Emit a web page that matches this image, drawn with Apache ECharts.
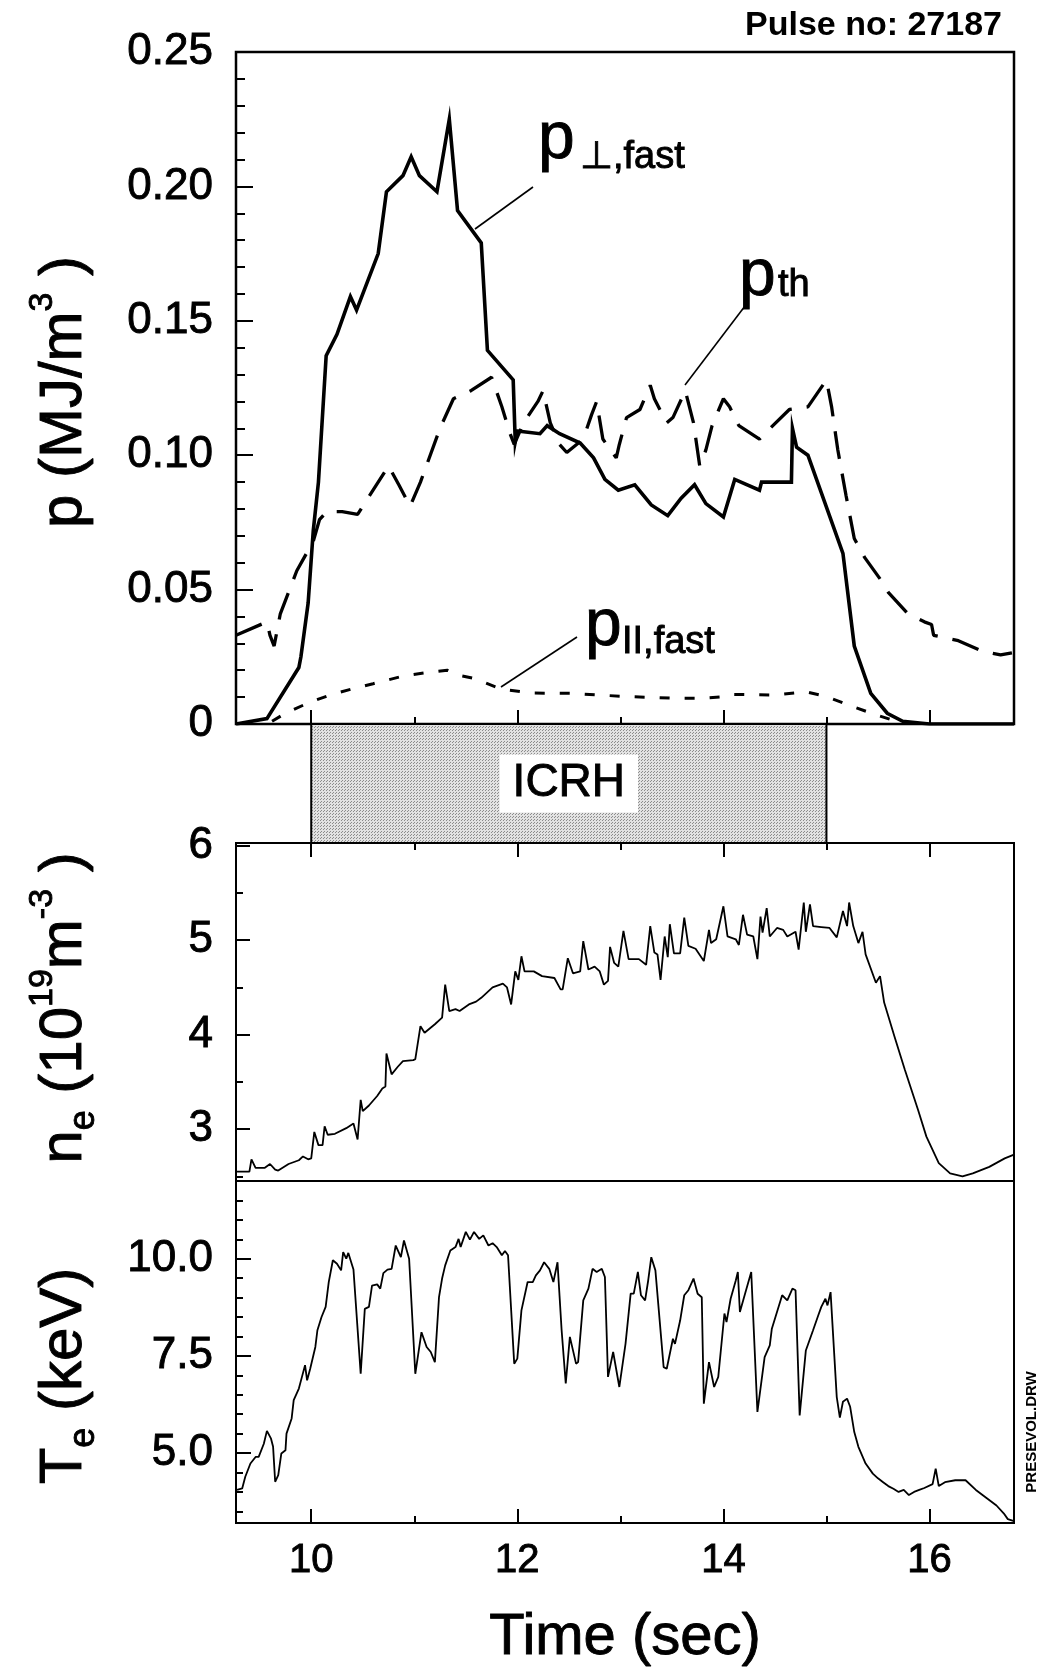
<!DOCTYPE html>
<html><head><meta charset="utf-8">
<script src="https://cdn.jsdelivr.net/npm/echarts@6/dist/echarts.min.js"></script>
<style>html,body{margin:0;padding:0;background:#fff}#c{width:1042px;height:1671px}</style>
</head><body><div id="c"></div>
<script>
const FONT = "'Liberation Sans', Arial, Helvetica, sans-serif";
const T_MIN = 9.27, T_MAX = 16.82;
const P_MIN = 0, P_MAX = 0.25;
const NE_MIN = 2.45, NE_MAX = 6.03;
const TE_MIN = 3.2, TE_MAX = 12.0;

const timeMajorTicks = [10, 12, 14, 16];
const timeMinorTicks = [11, 13, 15];
const pMajorTicks = [0, 0.05, 0.10, 0.15, 0.20, 0.25];
const pMinorTicks = [0.01,0.02,0.03,0.04,0.06,0.07,0.08,0.09,0.11,0.12,0.13,0.14,0.16,0.17,0.18,0.19,0.21,0.22,0.23,0.24];
const neMajorTicks = [3, 4, 5, 6];
const neMinorTicks = [2.5, 3.5, 4.5, 5.5];
const teMajorTicks = [5, 7.5, 10];
const teMinorTicks = [3.5,4,4.5,5.5,6,6.5,7,8,8.5,9,9.5,10.5,11,11.5];

const icrhWindow = [[10, 15]];
const icrhLabel = 'ICRH';

// p_perp,fast (MJ/m^3)
const pPerpFast = [[9.27,0.000],[9.57,0.002],[9.88,0.021],[9.90,0.025],[9.97,0.045],[10.02,0.072],[10.07,0.090],[10.145,0.137],[10.25,0.145],[10.38,0.159],[10.44,0.154],[10.65,0.175],[10.73,0.198],[10.89,0.204],[10.97,0.211],[11.05,0.204],[11.22,0.198],[11.34,0.225],[11.42,0.191],[11.65,0.179],[11.71,0.139],[11.96,0.128],[11.98,0.105],[12.0,0.109],[12.22,0.108],[12.29,0.111],[12.41,0.108],[12.61,0.1045],[12.74,0.099],[12.85,0.091],[12.98,0.087],[13.14,0.089],[13.30,0.0815],[13.46,0.0775],[13.59,0.084],[13.72,0.089],[13.83,0.082],[14.00,0.077],[14.11,0.091],[14.35,0.087],[14.37,0.090],[14.66,0.090],[14.67,0.110],[14.71,0.103],[14.82,0.100],[15.16,0.0635],[15.27,0.029],[15.43,0.0114],[15.59,0.004],[15.74,0.001],[16.0,0.0],[16.82,0.0]];
// p_th
const pTh = [[9.27,0.033],[9.57,0.038],[9.60,0.033],[9.64,0.029],[9.70,0.041],[9.86,0.057],[10.02,0.068],[10.08,0.076],[10.15,0.079],[10.30,0.079],[10.45,0.078],[10.60,0.087],[10.75,0.096],[10.85,0.089],[10.96,0.081],[11.06,0.090],[11.25,0.110],[11.38,0.121],[11.55,0.124],[11.75,0.129],[11.85,0.118],[11.93,0.108],[11.97,0.104],[12.06,0.112],[12.20,0.120],[12.25,0.124],[12.32,0.112],[12.41,0.104],[12.48,0.101],[12.64,0.106],[12.72,0.115],[12.77,0.120],[12.83,0.106],[12.96,0.099],[12.99,0.104],[13.06,0.114],[13.19,0.117],[13.29,0.126],[13.33,0.121],[13.45,0.112],[13.51,0.114],[13.63,0.124],[13.71,0.112],[13.77,0.096],[13.83,0.102],[13.89,0.111],[14.0,0.121],[14.06,0.118],[14.15,0.111],[14.35,0.106],[14.48,0.111],[14.64,0.117],[14.82,0.118],[15.0,0.128],[15.05,0.118],[15.11,0.102],[15.19,0.085],[15.27,0.069],[15.37,0.062],[15.52,0.054],[15.60,0.049],[15.79,0.041],[15.95,0.038],[16.02,0.037],[16.04,0.033],[16.10,0.0325],[16.28,0.031],[16.52,0.027],[16.69,0.0257],[16.80,0.0265]];
// p_par,fast
const pParFast = [[9.62,0.001],[9.75,0.004],[9.98,0.008],[10.20,0.011],[10.39,0.013],[10.60,0.015],[10.91,0.018],[11.10,0.019],[11.32,0.020],[11.45,0.018],[11.58,0.017],[11.84,0.013],[12.15,0.0115],[12.51,0.0114],[13.06,0.0102],[13.54,0.0096],[13.80,0.0096],[14.03,0.0102],[14.10,0.011],[14.51,0.0108],[14.80,0.012],[15.0,0.0102],[15.26,0.0064],[15.49,0.0033],[15.62,0.0017],[15.72,0.0]];
// n_e (1e19 m^-3)
const neData = [[9.28,2.55],[9.31,2.55],[9.40,2.55],[9.42,2.68],[9.46,2.59],[9.55,2.59],[9.60,2.63],[9.65,2.57],[9.68,2.56],[9.78,2.63],[9.88,2.67],[9.92,2.71],[9.97,2.68],[10.0,2.69],[10.03,2.97],[10.07,2.83],[10.11,2.83],[10.13,3.03],[10.16,2.94],[10.23,2.95],[10.34,3.01],[10.41,3.06],[10.45,2.89],[10.48,3.31],[10.50,3.19],[10.56,3.25],[10.64,3.35],[10.69,3.43],[10.72,3.45],[10.73,3.80],[10.78,3.58],[10.84,3.66],[10.89,3.72],[10.99,3.73],[11.01,3.74],[11.06,4.09],[11.10,4.02],[11.20,4.11],[11.27,4.18],[11.30,4.53],[11.34,4.25],[11.40,4.27],[11.44,4.25],[11.53,4.32],[11.60,4.35],[11.65,4.39],[11.76,4.50],[11.86,4.54],[11.90,4.50],[11.94,4.32],[11.98,4.67],[12.01,4.58],[12.04,4.83],[12.07,4.67],[12.16,4.67],[12.24,4.62],[12.36,4.60],[12.42,4.48],[12.44,4.48],[12.49,4.81],[12.54,4.65],[12.61,4.67],[12.64,4.99],[12.69,4.69],[12.75,4.72],[12.80,4.67],[12.84,4.53],[12.88,4.57],[12.90,4.93],[12.94,4.76],[12.98,4.72],[13.03,5.10],[13.08,4.80],[13.18,4.80],[13.25,4.74],[13.29,5.15],[13.33,4.87],[13.36,4.85],[13.39,4.58],[13.43,5.04],[13.46,4.82],[13.48,5.17],[13.52,4.86],[13.58,4.86],[13.62,5.24],[13.66,4.94],[13.73,4.91],[13.81,4.78],[13.86,5.11],[13.88,4.97],[13.93,5.01],[14.00,5.36],[14.04,5.04],[14.12,5.01],[14.15,4.95],[14.19,5.27],[14.23,5.06],[14.29,5.04],[14.33,4.80],[14.36,5.25],[14.38,5.08],[14.42,5.34],[14.45,5.04],[14.52,5.13],[14.58,5.11],[14.62,5.04],[14.70,5.09],[14.73,4.90],[14.78,5.40],[14.80,5.09],[14.84,5.38],[14.87,5.15],[14.95,5.14],[15.03,5.13],[15.10,5.03],[15.16,5.31],[15.20,5.15],[15.22,5.40],[15.26,5.15],[15.31,4.97],[15.35,5.09],[15.38,4.85],[15.48,4.55],[15.52,4.62],[15.56,4.34],[15.66,3.98],[15.76,3.63],[15.89,3.20],[15.97,2.92],[16.09,2.64],[16.20,2.53],[16.32,2.50],[16.42,2.53],[16.58,2.60],[16.73,2.69],[16.82,2.73]];
// T_e (keV)
const teData = [[9.28,4.05],[9.33,4.09],[9.36,4.39],[9.41,4.73],[9.46,4.90],[9.49,4.90],[9.54,5.24],[9.57,5.57],[9.61,5.37],[9.63,5.16],[9.65,4.26],[9.68,4.43],[9.71,4.99],[9.75,5.07],[9.76,5.50],[9.81,5.89],[9.83,6.36],[9.88,6.66],[9.91,6.96],[9.94,7.26],[9.96,6.87],[9.99,7.17],[10.04,7.73],[10.06,8.16],[10.10,8.50],[10.14,8.76],[10.17,9.40],[10.21,9.96],[10.25,9.87],[10.29,9.70],[10.31,10.17],[10.34,10.0],[10.36,10.15],[10.41,9.72],[10.48,7.04],[10.52,8.71],[10.56,8.76],[10.59,9.31],[10.64,9.34],[10.67,9.23],[10.70,9.63],[10.74,9.72],[10.78,9.74],[10.82,10.34],[10.87,10.04],[10.90,10.47],[10.95,10.0],[11.01,7.04],[11.07,8.11],[11.12,7.73],[11.16,7.60],[11.20,7.34],[11.24,9.01],[11.27,9.49],[11.30,9.83],[11.35,10.21],[11.40,10.30],[11.43,10.51],[11.45,10.30],[11.50,10.69],[11.54,10.49],[11.58,10.69],[11.63,10.51],[11.67,10.60],[11.72,10.34],[11.76,10.40],[11.80,10.30],[11.85,10.09],[11.88,10.20],[11.91,10.09],[11.97,7.30],[12.00,7.43],[12.04,8.67],[12.10,9.40],[12.15,9.40],[12.18,9.57],[12.22,9.70],[12.26,9.91],[12.31,9.74],[12.35,9.40],[12.39,9.91],[12.43,8.16],[12.47,6.79],[12.51,7.99],[12.57,7.30],[12.59,7.34],[12.64,8.93],[12.69,9.23],[12.73,9.74],[12.77,9.66],[12.82,9.74],[12.85,9.53],[12.88,6.96],[12.93,7.60],[12.99,6.70],[13.05,7.81],[13.10,9.10],[13.13,9.10],[13.17,9.66],[13.20,9.06],[13.24,8.93],[13.27,9.44],[13.30,10.04],[13.34,9.70],[13.42,7.21],[13.45,7.17],[13.51,7.94],[13.53,7.81],[13.58,8.41],[13.62,9.06],[13.66,9.19],[13.71,9.49],[13.75,9.10],[13.79,9.01],[13.81,6.27],[13.86,7.34],[13.91,6.70],[13.95,6.96],[14.01,8.59],[14.03,8.37],[14.07,8.97],[14.12,9.44],[14.14,9.66],[14.16,8.63],[14.21,9.10],[14.27,9.66],[14.33,6.06],[14.40,7.47],[14.45,7.77],[14.47,8.20],[14.52,8.63],[14.57,9.06],[14.62,8.93],[14.67,9.23],[14.70,9.19],[14.74,5.97],[14.80,7.64],[14.87,8.16],[14.92,8.54],[14.95,8.76],[14.99,8.97],[15.01,8.80],[15.04,9.14],[15.10,6.44],[15.13,5.91],[15.16,6.32],[15.20,6.40],[15.23,6.19],[15.27,5.54],[15.31,5.16],[15.38,4.73],[15.45,4.47],[15.50,4.35],[15.55,4.25],[15.60,4.15],[15.65,4.08],[15.70,4.00],[15.75,4.05],[15.80,3.92],[15.85,4.00],[15.90,4.05],[15.95,4.10],[16.03,4.20],[16.06,4.60],[16.09,4.15],[16.15,4.25],[16.25,4.30],[16.35,4.30],[16.45,4.05],[16.55,3.85],[16.65,3.65],[16.72,3.45],[16.76,3.30],[16.82,3.25]];

const GL = 236, GW = 778;
const TB = 0.9; // slight text thickening to match the scanned print weight

// stipple pattern for ICRH band
const pc = document.createElement('canvas');
pc.width = 3; pc.height = 3;
const pctx = pc.getContext('2d');
pctx.fillStyle = '#e2e2e2'; pctx.fillRect(0, 0, 3, 3);
pctx.fillStyle = '#8c8c8c'; pctx.fillRect(0, 0, 1, 1); pctx.fillRect(2, 1, 1, 1);
const stipple = { image: pc, repeat: 'repeat' };

function tAxis(gi, pos, ticks, len, labels, extra) {
  return Object.assign({
    type: 'value', gridIndex: gi, position: pos, min: T_MIN, max: T_MAX,
    axisLine: { show: false }, splitLine: { show: false },
    axisTick: { show: true, inside: true, length: len, customValues: ticks, lineStyle: { color: '#000', width: 2 } },
    axisLabel: { show: labels, customValues: ticks, margin: 18, color: '#000', fontSize: 40, fontFamily: FONT,
      textBorderColor: '#000', textBorderWidth: TB }
  }, extra || {});
}
function vAxis(gi, min, max, ticks, len, labels, fmt) {
  return {
    type: 'value', gridIndex: gi, position: 'left', min: min, max: max,
    axisLine: { show: false }, splitLine: { show: false },
    axisTick: { show: true, inside: true, length: len, customValues: ticks, lineStyle: { color: '#000', width: 2 } },
    axisLabel: { show: labels, customValues: ticks, margin: 23, color: '#000', fontSize: 44, fontFamily: FONT, formatter: fmt,
      textBorderColor: '#000', textBorderWidth: TB }
  };
}

const lineBase = { type: 'line', symbol: 'none', showSymbol: false, clip: true, animation: false };

function txt(x, y, text, size, extra) {
  return Object.assign({ type: 'text', x: x, y: y,
    style: { text: text, align: 'left', verticalAlign: 'middle', fontSize: size, fontFamily: FONT, fill: '#000', stroke: '#000', lineWidth: TB } }, extra || {});
}
function rotTitle(x, y, text, rich) {
  const r = {};
  Object.keys(rich).forEach(k => { r[k] = Object.assign({ fontFamily: FONT, fill: '#000', stroke: '#000', lineWidth: TB }, rich[k]); });
  return { type: 'text', x: x, y: y, rotation: Math.PI / 2,
    style: { text: text, align: 'center', verticalAlign: 'middle', fill: '#000', fontFamily: FONT, fontSize: 60, rich: r } };
}

const chart = echarts.init(document.getElementById('c'), null, { renderer: 'canvas', width: 1042, height: 1671 });
chart.setOption({
  backgroundColor: '#fff',
  animation: false,
  grid: [
    { left: GL, top: 52, width: GW, height: 672, show: true, borderColor: '#000', borderWidth: 2.5, backgroundColor: 'transparent' },
    { left: GL, top: 724, width: GW, height: 119, show: false },
    { left: GL, top: 843, width: GW, height: 338, show: true, borderColor: '#000', borderWidth: 2, backgroundColor: 'transparent' },
    { left: GL, top: 1181, width: GW, height: 342, show: true, borderColor: '#000', borderWidth: 2, backgroundColor: 'transparent' }
  ],
  xAxis: [
    tAxis(0, 'bottom', timeMajorTicks, 14, false),
    tAxis(0, 'bottom', timeMinorTicks, 7, false),
    { type: 'value', gridIndex: 1, min: T_MIN, max: T_MAX, show: false },
    tAxis(2, 'top', timeMajorTicks, 14, false),
    tAxis(2, 'top', timeMinorTicks, 7, false),
    tAxis(3, 'bottom', timeMajorTicks, 14, true, {
      name: 'Time (sec)', nameLocation: 'middle', nameGap: 86,
      nameTextStyle: { fontSize: 58, color: '#000', fontFamily: FONT, textBorderColor: '#000', textBorderWidth: TB }
    }),
    tAxis(3, 'bottom', timeMinorTicks, 7, false)
  ],
  yAxis: [
    vAxis(0, P_MIN, P_MAX, pMajorTicks, 17, true, v => (v === 0 ? '0' : v.toFixed(2))),
    vAxis(0, P_MIN, P_MAX, pMinorTicks, 9, false),
    { type: 'value', gridIndex: 1, min: 0, max: 1, show: false },
    vAxis(2, NE_MIN, NE_MAX, neMajorTicks, 14, true, v => String(v)),
    vAxis(2, NE_MIN, NE_MAX, neMinorTicks, 7, false),
    vAxis(3, TE_MIN, TE_MAX, teMajorTicks, 15, true, v => v.toFixed(1)),
    vAxis(3, TE_MIN, TE_MAX, teMinorTicks, 7, false)
  ],
  series: [
    Object.assign({}, lineBase, { name: 'p_perp,fast', xAxisIndex: 0, yAxisIndex: 0, data: pPerpFast,
      lineStyle: { color: '#000', width: 3.6, join: 'miter' } }),
    Object.assign({}, lineBase, { name: 'p_th', xAxisIndex: 0, yAxisIndex: 0, data: pTh,
      lineStyle: { color: '#000', width: 3.3, type: [28, 15] } }),
    Object.assign({}, lineBase, { name: 'p_par,fast', xAxisIndex: 0, yAxisIndex: 0, data: pParFast,
      lineStyle: { color: '#000', width: 3, type: [10, 15] } }),
    {
      type: 'custom', name: 'ICRH', xAxisIndex: 2, yAxisIndex: 2, data: icrhWindow, animation: false,
      renderItem: function (params, api) {
        const a = api.coord([api.value(0), 1]);
        const b = api.coord([api.value(1), 0]);
        return {
          type: 'group', children: [
            { type: 'rect', shape: { x: a[0], y: a[1], width: b[0] - a[0], height: b[1] - a[1] },
              style: { fill: stipple, stroke: '#000', lineWidth: 2 } },
            { type: 'text', x: (a[0] + b[0]) / 2, y: (a[1] + b[1]) / 2,
              style: { text: icrhLabel, align: 'center', verticalAlign: 'middle', fontSize: 46, fontFamily: FONT,
                fill: '#000', stroke: '#000', lineWidth: TB, backgroundColor: '#fff', padding: [7, 13, 5, 13] } }
          ]
        };
      }
    },
    Object.assign({}, lineBase, { name: 'n_e', xAxisIndex: 3, yAxisIndex: 3, data: neData,
      lineStyle: { color: '#000', width: 1.8 } }),
    Object.assign({}, lineBase, { name: 'T_e', xAxisIndex: 5, yAxisIndex: 5, data: teData,
      lineStyle: { color: '#000', width: 1.8 } })
  ],
  graphic: [
    { type: 'text', x: 1002, y: 26, style: { text: 'Pulse no: 27187', align: 'right', verticalAlign: 'middle', fontSize: 34, fontWeight: 'bold', fontFamily: FONT, fill: '#000' } },
    // y axis titles
    rotTitle(64, 392, '{m|p (MJ/m}{s|3}{m| )}', { m: { fontSize: 60, lineHeight: 76 }, s: { fontSize: 34, verticalAlign: 'top' } }),
    rotTitle(64, 1008, '{m|n}{b|e}{m| (10}{s|19}{m|m}{s|-3}{m| )}', { m: { fontSize: 60, lineHeight: 76 }, s: { fontSize: 34, verticalAlign: 'top' }, b: { fontSize: 36, verticalAlign: 'bottom' } }),
    rotTitle(64, 1376, '{m|T}{b|e}{m| (keV)}', { m: { fontSize: 60, lineHeight: 76 }, b: { fontSize: 36, verticalAlign: 'bottom' } }),
    // curve annotations
    txt(538, 140, 'p', 66),
    txt(580, 158, '\u22A5,fast', 38),
    { type: 'line', shape: { x1: 533, y1: 187, x2: 475, y2: 229 }, style: { stroke: '#000', lineWidth: 1.6 } },
    txt(739, 277, 'p', 66),
    txt(778, 286, 'th', 38),
    { type: 'line', shape: { x1: 745, y1: 306, x2: 685, y2: 385 }, style: { stroke: '#000', lineWidth: 1.6 } },
    txt(585, 627, 'p', 66),
    txt(622, 643, 'II,fast', 38),
    { type: 'line', shape: { x1: 577, y1: 637, x2: 501, y2: 687 }, style: { stroke: '#000', lineWidth: 1.6 } },
    // file tag
    { type: 'text', x: 1032, y: 1432, rotation: Math.PI / 2,
      style: { text: 'PRESEVOL.DRW', align: 'center', verticalAlign: 'middle', fontSize: 15, fontWeight: 'bold', fontFamily: FONT, fill: '#000' } }
  ]
});
</script></body></html>
